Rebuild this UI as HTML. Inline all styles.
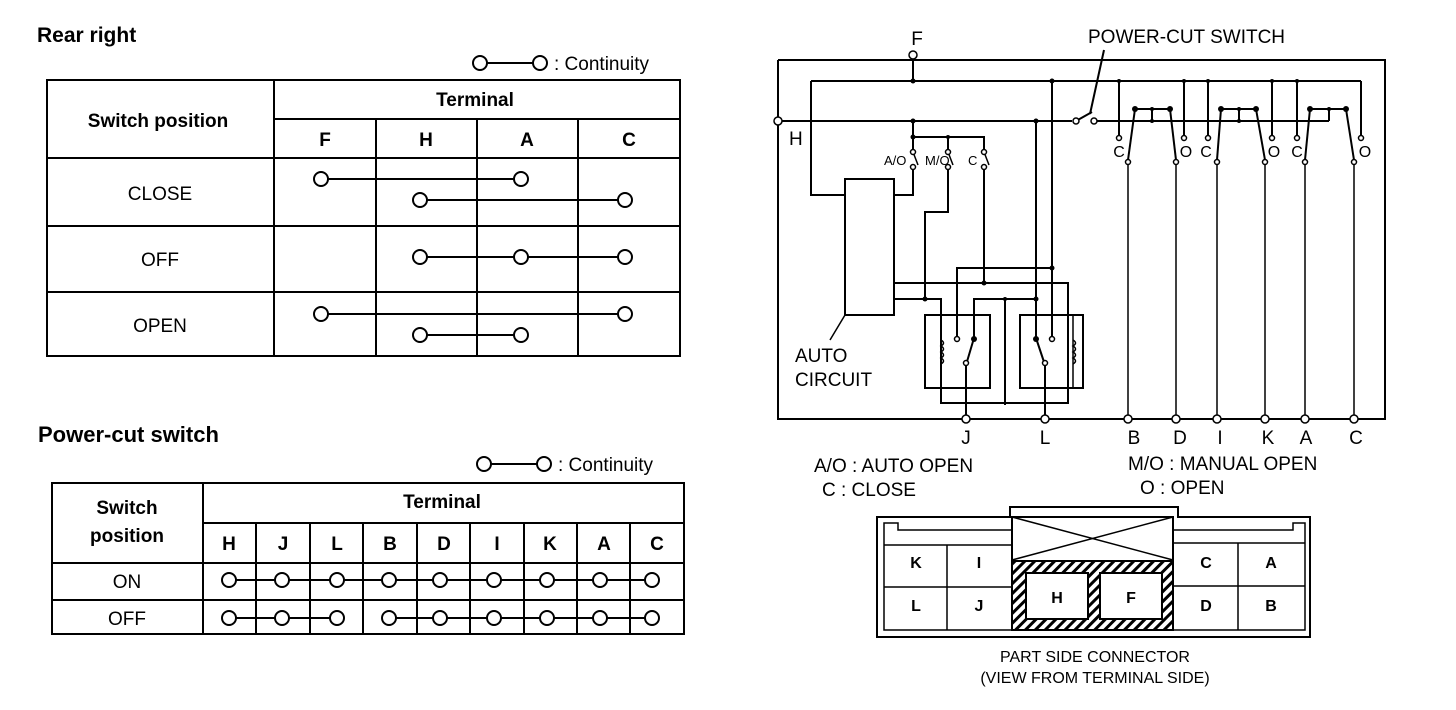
<!DOCTYPE html>
<html><head><meta charset="utf-8"><style>
html,body{margin:0;padding:0;background:#fff;}
svg{display:block;}
text{font-family:"Liberation Sans",Arial,sans-serif;fill:#000;}
.b{font-weight:bold;}
</style></head><body>
<svg width="1456" height="710" viewBox="0 0 1456 710" xmlns="http://www.w3.org/2000/svg">
<g stroke="#000" fill="none" stroke-width="2">
<!-- Rear right table -->
<rect x="47" y="80" width="633" height="276"/>
<line x1="274" y1="80" x2="274" y2="356"/>
<line x1="274" y1="119" x2="680" y2="119"/>
<line x1="47" y1="158" x2="680" y2="158"/>
<line x1="47" y1="226" x2="680" y2="226"/>
<line x1="47" y1="292" x2="680" y2="292"/>
<line x1="376" y1="119" x2="376" y2="356"/>
<line x1="477" y1="119" x2="477" y2="356"/>
<line x1="578" y1="119" x2="578" y2="356"/>
<line x1="321" y1="179" x2="521" y2="179"/>
<line x1="420" y1="200" x2="625" y2="200"/>
<line x1="420" y1="257" x2="625" y2="257"/>
<line x1="321" y1="314" x2="625" y2="314"/>
<line x1="420" y1="335" x2="521" y2="335"/>
<line x1="480" y1="63" x2="540" y2="63"/>
<!-- Power-cut table -->
<rect x="52" y="483" width="632" height="151"/>
<line x1="203" y1="483" x2="203" y2="634"/>
<line x1="203" y1="523" x2="684" y2="523"/>
<line x1="52" y1="563" x2="684" y2="563"/>
<line x1="52" y1="600" x2="684" y2="600"/>
<line x1="256" y1="523" x2="256" y2="634"/>
<line x1="310" y1="523" x2="310" y2="634"/>
<line x1="363" y1="523" x2="363" y2="634"/>
<line x1="417" y1="523" x2="417" y2="634"/>
<line x1="470" y1="523" x2="470" y2="634"/>
<line x1="524" y1="523" x2="524" y2="634"/>
<line x1="577" y1="523" x2="577" y2="634"/>
<line x1="630" y1="523" x2="630" y2="634"/>
<line x1="229" y1="580" x2="652" y2="580"/>
<line x1="229" y1="618" x2="337" y2="618"/>
<line x1="389" y1="618" x2="652" y2="618"/>
<line x1="484" y1="464" x2="544" y2="464"/>

<!-- Circuit -->
<polyline points="778,60 1385,60 1385,419 778,419 778,60"/>
<line x1="913" y1="55" x2="913" y2="81"/>
<line x1="811" y1="81" x2="1361" y2="81"/>
<line x1="1361" y1="81" x2="1361" y2="137"/>
<line x1="778" y1="121" x2="1072" y2="121"/>
<line x1="1076" y1="121" x2="1092" y2="112"/>
<line x1="1094" y1="121" x2="1329" y2="121"/>
<line x1="1090" y1="114" x2="1104" y2="50"/>
<polyline points="811,81 811,195 845,195"/>
<rect x="845" y="179" width="49" height="136"/>
<polyline points="894,195 913,195 913,167"/>
<line x1="913" y1="121" x2="913" y2="152"/>
<polyline points="913,137 984,137 984,152"/>
<line x1="948" y1="137" x2="948" y2="152"/>
<line x1="913" y1="152" x2="918" y2="165" stroke-width="1.5"/>
<line x1="948" y1="152" x2="953" y2="165" stroke-width="1.5"/>
<line x1="984" y1="152" x2="989" y2="165" stroke-width="1.5"/>
<polyline points="948,167 948,212 925,212 925,299"/>
<line x1="984" y1="167" x2="984" y2="283"/>
<line x1="845" y1="315" x2="830" y2="340" stroke-width="1.5"/>
<polyline points="894,283 1068,283 1068,403 941,403 941,299 894,299"/>
<polyline points="957,338 957,268 1052,268"/>
<line x1="1052" y1="81" x2="1052" y2="338"/>
<line x1="1036" y1="121" x2="1036" y2="338"/>
<polyline points="974,338 974,299 1036,299"/>
<line x1="1005" y1="299" x2="1005" y2="405"/>
<rect x="925" y="315" width="65" height="73"/>
<rect x="1020" y="315" width="63" height="73"/>
<line x1="974" y1="338" x2="966" y2="365"/>
<line x1="966" y1="365" x2="966" y2="419"/>
<line x1="1036" y1="338" x2="1045" y2="365"/>
<line x1="1045" y1="365" x2="1045" y2="419"/>
<line x1="1119" y1="81" x2="1119" y2="137"/>
<line x1="1184" y1="81" x2="1184" y2="137"/>
<line x1="1208" y1="81" x2="1208" y2="137"/>
<line x1="1272" y1="81" x2="1272" y2="137"/>
<line x1="1297" y1="81" x2="1297" y2="137"/>
<polyline points="1135,109 1170,109"/>
<polyline points="1221,109 1256,109"/>
<polyline points="1310,109 1346,109"/>
<line x1="1152" y1="109" x2="1152" y2="121"/>
<line x1="1239" y1="109" x2="1239" y2="121"/>
<line x1="1329" y1="121" x2="1329" y2="109"/>
<line x1="1135" y1="109" x2="1128" y2="160"/>
<line x1="1170" y1="109" x2="1176" y2="160"/>
<line x1="1221" y1="109" x2="1217" y2="160"/>
<line x1="1256" y1="109" x2="1265" y2="160"/>
<line x1="1310" y1="109" x2="1305" y2="160"/>
<line x1="1346" y1="109" x2="1354" y2="160"/>
<g stroke-width="1.5">
<line x1="1128" y1="162" x2="1128" y2="419"/>
<line x1="1176" y1="162" x2="1176" y2="419"/>
<line x1="1217" y1="162" x2="1217" y2="419"/>
<line x1="1265" y1="162" x2="1265" y2="419"/>
<line x1="1305" y1="162" x2="1305" y2="419"/>
<line x1="1354" y1="162" x2="1354" y2="419"/>
</g>
<g stroke-width="1.5">
<path d="M941,340 q5,3 0,6 q5,3 0,6 q5,3 0,6 q5,3 0,6"/>
<path d="M1073,340 q5,3 0,6 q5,3 0,6 q5,3 0,6 q5,3 0,6"/>
<line x1="941" y1="315" x2="941" y2="388"/>
<line x1="1073" y1="315" x2="1073" y2="388"/>
</g>

<!-- connector -->
<path d="M877,517 H1010 V507 H1178 V517 H1310 V637 H877 Z"/>
<path d="M1012,530 H898 V523 H884 V630 H1305 V523 H1293 V530 H1173" stroke-width="1.5"/>
<rect x="1012" y="517" width="161" height="113"/>
<line x1="1012" y1="517" x2="1173" y2="560" stroke-width="1.5"/>
<line x1="1173" y1="517" x2="1012" y2="560" stroke-width="1.5"/>
<line x1="884" y1="545" x2="1012" y2="545" stroke-width="1.5"/>
<line x1="884" y1="587" x2="1012" y2="587" stroke-width="1.5"/>
<line x1="947" y1="545" x2="947" y2="630" stroke-width="1.5"/>
<line x1="1173" y1="543" x2="1305" y2="543" stroke-width="1.5"/>
<line x1="1173" y1="586" x2="1305" y2="586" stroke-width="1.5"/>
<line x1="1238" y1="543" x2="1238" y2="630" stroke-width="1.5"/>
</g>
<defs><pattern id="h" width="7" height="7" patternUnits="userSpaceOnUse" patternTransform="rotate(45)"><rect width="7" height="7" fill="#fff"/><rect width="3" height="7" fill="#000"/></pattern></defs>
<rect x="1012" y="561" width="161" height="69" fill="url(#h)" stroke="#000" stroke-width="2"/>
<rect x="1026" y="573" width="62" height="46" fill="#fff" stroke="#000" stroke-width="2"/>
<rect x="1100" y="573" width="62" height="46" fill="#fff" stroke="#000" stroke-width="2"/>

<g stroke="#000" stroke-width="2" fill="#fff">
<circle cx="321" cy="179" r="7"/><circle cx="521" cy="179" r="7"/>
<circle cx="420" cy="200" r="7"/><circle cx="625" cy="200" r="7"/>
<circle cx="420" cy="257" r="7"/><circle cx="521" cy="257" r="7"/><circle cx="625" cy="257" r="7"/>
<circle cx="321" cy="314" r="7"/><circle cx="625" cy="314" r="7"/>
<circle cx="420" cy="335" r="7"/><circle cx="521" cy="335" r="7"/>
<circle cx="480" cy="63" r="7"/><circle cx="540" cy="63" r="7"/>
<circle cx="484" cy="464" r="7"/><circle cx="544" cy="464" r="7"/>
<circle cx="229" cy="580" r="7"/><circle cx="282" cy="580" r="7"/><circle cx="337" cy="580" r="7"/><circle cx="389" cy="580" r="7"/><circle cx="440" cy="580" r="7"/><circle cx="494" cy="580" r="7"/><circle cx="547" cy="580" r="7"/><circle cx="600" cy="580" r="7"/><circle cx="652" cy="580" r="7"/>
<circle cx="229" cy="618" r="7"/><circle cx="282" cy="618" r="7"/><circle cx="337" cy="618" r="7"/><circle cx="389" cy="618" r="7"/><circle cx="440" cy="618" r="7"/><circle cx="494" cy="618" r="7"/><circle cx="547" cy="618" r="7"/><circle cx="600" cy="618" r="7"/><circle cx="652" cy="618" r="7"/>
</g>
<g stroke="#000" stroke-width="1.5" fill="#fff">
<circle cx="913" cy="55" r="4"/><circle cx="778" cy="121" r="4"/>
<circle cx="1076" cy="121" r="3"/><circle cx="1094" cy="121" r="3"/>
<circle cx="913" cy="152" r="2.5"/><circle cx="913" cy="167" r="2.5"/>
<circle cx="948" cy="152" r="2.5"/><circle cx="948" cy="167" r="2.5"/>
<circle cx="984" cy="152" r="2.5"/><circle cx="984" cy="167" r="2.5"/>
<circle cx="1119" cy="138" r="2.5"/><circle cx="1184" cy="138" r="2.5"/><circle cx="1208" cy="138" r="2.5"/><circle cx="1272" cy="138" r="2.5"/><circle cx="1297" cy="138" r="2.5"/><circle cx="1361" cy="138" r="2.5"/>
<circle cx="1128" cy="162" r="2.5"/><circle cx="1176" cy="162" r="2.5"/><circle cx="1217" cy="162" r="2.5"/><circle cx="1265" cy="162" r="2.5"/><circle cx="1305" cy="162" r="2.5"/><circle cx="1354" cy="162" r="2.5"/>
<circle cx="957" cy="339" r="2.5"/><circle cx="966" cy="363" r="2.5"/><circle cx="1052" cy="339" r="2.5"/><circle cx="1045" cy="363" r="2.5"/>
<circle cx="966" cy="419" r="4"/><circle cx="1045" cy="419" r="4"/><circle cx="1128" cy="419" r="4"/><circle cx="1176" cy="419" r="4"/><circle cx="1217" cy="419" r="4"/><circle cx="1265" cy="419" r="4"/><circle cx="1305" cy="419" r="4"/><circle cx="1354" cy="419" r="4"/>
</g>
<g fill="#000">
<circle cx="913" cy="81" r="2.5"/><circle cx="913" cy="121" r="2.5"/><circle cx="913" cy="137" r="2.5"/><circle cx="948" cy="137" r="2"/>
<circle cx="1052" cy="81" r="2.5"/><circle cx="1036" cy="121" r="2.5"/><circle cx="1119" cy="81" r="2"/><circle cx="1184" cy="81" r="2"/><circle cx="1208" cy="81" r="2"/><circle cx="1272" cy="81" r="2"/><circle cx="1297" cy="81" r="2"/>
<circle cx="1152" cy="121" r="2"/><circle cx="1239" cy="121" r="2"/>
<circle cx="1135" cy="109" r="3"/><circle cx="1170" cy="109" r="3"/><circle cx="1221" cy="109" r="3"/><circle cx="1256" cy="109" r="3"/><circle cx="1310" cy="109" r="3"/><circle cx="1346" cy="109" r="3"/>
<circle cx="1152" cy="109" r="2"/><circle cx="1239" cy="109" r="2"/><circle cx="1329" cy="109" r="2"/>
<circle cx="925" cy="299" r="2.5"/><circle cx="984" cy="283" r="2.5"/><circle cx="1052" cy="268" r="2.5"/><circle cx="1036" cy="299" r="2.5"/><circle cx="1005" cy="299" r="2"/>
<circle cx="974" cy="339" r="3"/><circle cx="1036" cy="339" r="3"/>
</g>

<g class="b">
<text x="37" y="42" font-size="21">Rear right</text>
<text x="38" y="442" font-size="22">Power-cut switch</text>
<text x="475" y="106" font-size="19" text-anchor="middle">Terminal</text>
<text x="158" y="127" font-size="19" text-anchor="middle">Switch position</text>
<text x="325" y="146" font-size="19" text-anchor="middle">F</text>
<text x="426" y="146" font-size="19" text-anchor="middle">H</text>
<text x="527" y="146" font-size="19" text-anchor="middle">A</text>
<text x="629" y="146" font-size="19" text-anchor="middle">C</text>
<text x="442" y="508" font-size="19" text-anchor="middle">Terminal</text>
<text x="127" y="514" font-size="19" text-anchor="middle">Switch</text>
<text x="127" y="542" font-size="19" text-anchor="middle">position</text>
<g font-size="19" text-anchor="middle">
<text x="229" y="550">H</text><text x="283" y="550">J</text><text x="337" y="550">L</text><text x="390" y="550">B</text><text x="444" y="550">D</text><text x="497" y="550">I</text><text x="550" y="550">K</text><text x="604" y="550">A</text><text x="657" y="550">C</text>
</g>
</g>
<g font-size="19">
<text x="554" y="70">: Continuity</text>
<text x="558" y="471">: Continuity</text>
<text x="160" y="200" text-anchor="middle">CLOSE</text>
<text x="160" y="266" text-anchor="middle">OFF</text>
<text x="160" y="332" text-anchor="middle">OPEN</text>
<text x="127" y="588" text-anchor="middle">ON</text>
<text x="127" y="625" text-anchor="middle">OFF</text>
<text x="917" y="45" text-anchor="middle">F</text>
<text x="1088" y="43">POWER-CUT SWITCH</text>
<text x="789" y="145">H</text>
<text x="795" y="362">AUTO</text>
<text x="795" y="386">CIRCUIT</text>
<g text-anchor="middle">
<text x="966" y="444">J</text><text x="1045" y="444">L</text><text x="1134" y="444">B</text><text x="1180" y="444">D</text><text x="1220" y="444">I</text><text x="1268" y="444">K</text><text x="1306" y="444">A</text><text x="1356" y="444">C</text>
</g>
<text x="814" y="472">A/O  :  AUTO OPEN</text>
<text x="822" y="496">C    :  CLOSE</text>
<text x="1128" y="470">M/O  :  MANUAL OPEN</text>
<text x="1140" y="494">O    :  OPEN</text>
</g>
<g font-size="13">
<text x="884" y="165">A/O</text><text x="925" y="165">M/O</text><text x="968" y="165">C</text>
</g>
<g font-size="16" text-anchor="middle">
<text x="1119" y="157">C</text><text x="1186" y="157">O</text><text x="1206" y="157">C</text><text x="1274" y="157">O</text><text x="1297" y="157">C</text><text x="1365" y="157">O</text>
</g>
<g font-size="16" class="b" text-anchor="middle">
<text x="916" y="568">K</text><text x="979" y="568">I</text><text x="1206" y="568">C</text><text x="1271" y="568">A</text>
<text x="916" y="611">L</text><text x="979" y="611">J</text><text x="1057" y="603">H</text><text x="1131" y="603">F</text><text x="1206" y="611">D</text><text x="1271" y="611">B</text>
</g>
<g font-size="16" text-anchor="middle">
<text x="1095" y="662">PART SIDE CONNECTOR</text>
<text x="1095" y="683">(VIEW FROM TERMINAL SIDE)</text>
</g>
</svg>
</body></html>
